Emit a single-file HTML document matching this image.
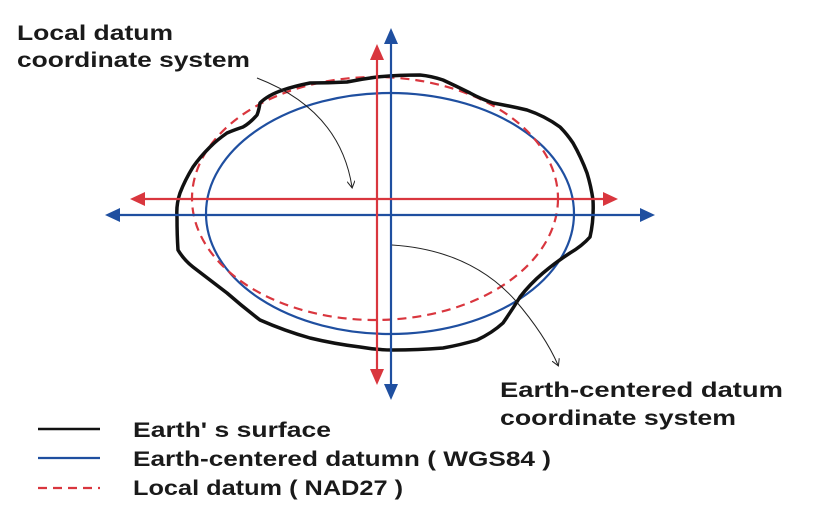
<!DOCTYPE html>
<html><head><meta charset="utf-8"><style>
html,body{margin:0;padding:0;background:#fff;}
svg{display:block;}
text{font-family:"Liberation Sans","DejaVu Sans",sans-serif;font-weight:bold;fill:#1a1a1a;font-size:21px;}
</style></head><body>
<svg width="834" height="522" viewBox="0 0 834 522" xmlns="http://www.w3.org/2000/svg">
<defs>
<marker id="ah" markerWidth="8" markerHeight="8" refX="6" refY="4" orient="auto" markerUnits="userSpaceOnUse">
<path d="M0,0 L7,4 L0,8" fill="none" stroke="#222" stroke-width="1"/>
</marker>
</defs>
<ellipse cx="390" cy="213.5" rx="184" ry="120.5" fill="none" stroke="#1f4fa0" stroke-width="2.2"/>
<ellipse cx="375" cy="198.5" rx="183" ry="121.5" fill="none" stroke="#d9363e" stroke-width="2.2" stroke-dasharray="9,6"/>
<path d="M180,193 Q176,205 177,217 Q177,235 178,250 Q184,260 193,267 Q210,280 227,293 Q243,307 260,320 Q285,331 310,338 Q335,344 360,347 Q377,350 393,350 Q418,350 443,348 Q460,345 477,340 Q492,333 503,323 Q512,310 520,297 Q530,284 543,273 Q556,262 570,253 Q582,246 590,237 Q594,220 593,200 Q591,186 587,173 Q581,157 573,143 Q567,134 560,127 Q545,116 527,110 Q510,106 493,103 Q481,99 470,93 Q456,86 443,80 Q431,76 420,75 Q398,75 377,77 Q362,79 347,82 Q328,83 310,83 Q295,86 283,90 Q268,95 260,103 Q259,110 257,115 Q250,123 243,127 Q234,130 227,133 Q217,140 210,147 Q200,157 193,167 Q185,180 180,193 Z" fill="none" stroke="#111" stroke-width="3.5" stroke-linejoin="round"/>
<line x1="112" y1="215" x2="648" y2="215" stroke="#1f4fa0" stroke-width="2.2"/>
<polygon points="105,215 120,208 120,222" fill="#1f4fa0"/>
<polygon points="655,215 640,208 640,222" fill="#1f4fa0"/>
<line x1="391" y1="36" x2="391" y2="392" stroke="#1f4fa0" stroke-width="2.2"/>
<polygon points="391,28 384,44 398,44" fill="#1f4fa0"/>
<polygon points="391,400 384,384 398,384" fill="#1f4fa0"/>
<line x1="137" y1="199" x2="611" y2="199" stroke="#d9363e" stroke-width="2.2"/>
<polygon points="130,199 145,192 145,206" fill="#d9363e"/>
<polygon points="618,199 603,192 603,206" fill="#d9363e"/>
<line x1="377" y1="52" x2="377" y2="377" stroke="#d9363e" stroke-width="2.2"/>
<polygon points="377,44 370,60 384,60" fill="#d9363e"/>
<polygon points="377,385 370,369 384,369" fill="#d9363e"/>
<path d="M257,78 Q340,110 352,187" fill="none" stroke="#222" stroke-width="1" marker-end="url(#ah)"/>
<path d="M392,245 Q470,250 515,300 Q545,335 558,365" fill="none" stroke="#222" stroke-width="1" marker-end="url(#ah)"/>
<text x="17" y="40" textLength="156" lengthAdjust="spacingAndGlyphs">Local datum</text>
<text x="17" y="67" textLength="233" lengthAdjust="spacingAndGlyphs">coordinate system</text>
<text x="500" y="397" textLength="283" lengthAdjust="spacingAndGlyphs">Earth-centered datum</text>
<text x="500" y="425" textLength="236" lengthAdjust="spacingAndGlyphs">coordinate system</text>
<line x1="38" y1="429" x2="100" y2="429" stroke="#111" stroke-width="2.5"/>
<line x1="38" y1="458" x2="100" y2="458" stroke="#1f4fa0" stroke-width="2.2"/>
<line x1="38" y1="488" x2="100" y2="488" stroke="#d9363e" stroke-width="2.2" stroke-dasharray="9,6"/>
<text x="133" y="437" textLength="198" lengthAdjust="spacingAndGlyphs">Earth' s surface</text>
<text x="133" y="466" textLength="418" lengthAdjust="spacingAndGlyphs">Earth-centered datumn ( WGS84 )</text>
<text x="133" y="495" textLength="270" lengthAdjust="spacingAndGlyphs">Local datum ( NAD27 )</text>
</svg>
</body></html>
